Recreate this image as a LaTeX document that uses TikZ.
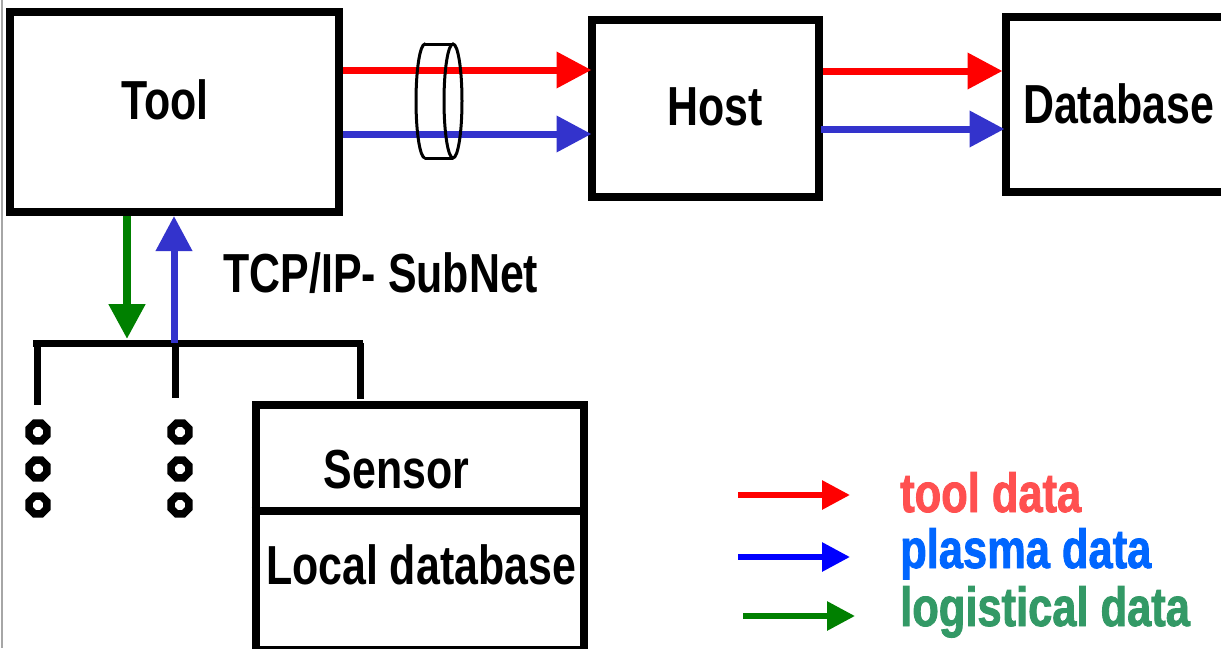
\documentclass[tikz,border=0pt]{standalone}
\usepackage{fontspec}
\setmainfont{Liberation Sans}[FakeStretch=0.78]
\newfontfamily\legfont{Liberation Sans}[FakeStretch=0.79,FakeBold=1.5]
\usetikzlibrary{arrows.meta,shapes.geometric}
\definecolor{rd}{RGB}{255,0,0}
\definecolor{bl}{RGB}{51,51,204}
\definecolor{legblue}{RGB}{0,0,255}
\definecolor{gr}{RGB}{0,128,0}
\definecolor{ltred}{RGB}{255,80,80}
\definecolor{ltblue}{RGB}{0,102,255}
\definecolor{ltgreen}{RGB}{51,153,102}
\tikzset{
  boxnode/.style={draw=black,line width=8pt,inner sep=0pt,rectangle},
  lbltext/.style={inner sep=0pt,anchor=base,font=\bfseries\fontsize{55}{60}\selectfont},
  leg/.style={inner sep=0pt,anchor=base west,font=\legfont\bfseries\fontsize{55}{60}\selectfont},
  flow/.style={line width=7pt,-{Triangle[length=35pt,width=35pt]}},
  legarrow/.style={line width=6pt,-{Triangle[length=28pt,width=28pt]}},
  busline/.style={line width=7pt,black},
  ring/.style={regular polygon,regular polygon sides=8,draw=black,line width=7.5pt,minimum size=19pt,inner sep=0pt},
}
\begin{document}
\begin{tikzpicture}[x=1pt,y=-1pt]
\useasboundingbox (0,0) rectangle (1221,648);
\fill[white] (0,0) rectangle (1221,648);
\draw[gray!70,line width=2pt] (1.5,0) -- (1.5,648);
% boxes
\node[boxnode,minimum width=329pt,minimum height=200pt] (tool) at (174.5,112) {};
\node[boxnode,minimum width=227.5pt,minimum height=176.5pt] (host) at (705.25,108.25) {};
\node[boxnode,minimum width=234.5pt,minimum height=175pt] (db) at (1122.75,104.5) {};
\node[boxnode,minimum width=328.5pt,minimum height=245pt] (sensor) at (419.75,527) {};
\coordinate (divy) at (0,511);
\draw[line width=8pt] (sensor.west |- divy) -- (sensor.east |- divy);
% labels
\node[lbltext] (tooltxt) at (165,119) {Tool};
\node[lbltext] (hosttxt) at (715,125) {Host};
\node[lbltext] (dbtxt) at (1118.5,123) {Database};
\node[lbltext] (tcp) at (381,292) {TCP/IP- SubNet};
\node[lbltext] (sensortxt) at (396.5,488) {Sensor};
\node[lbltext] (localtxt) at (421,584) {Local database};
% top flows
\coordinate (yr1) at (0,70);
\coordinate (yb1) at (0,134);
\coordinate (yr2) at (0,71);
\coordinate (yb2) at (0,129);
\draw[flow,rd] (tool.east |- yr1) -- ([xshift=4pt]host.west |- yr1);
\draw[flow,bl] (tool.east |- yb1) -- ([xshift=4pt]host.west |- yb1);
\draw[flow,rd] (host.east |- yr2) -- ([xshift=1pt]db.west |- yr2);
\draw[flow,bl] ([xshift=-2pt]host.east |- yb2) -- ([xshift=3pt]db.west |- yb2);
% cylinder (fibre bundle)
\begin{scope}
  \clip (400,30) rectangle (425,170);
  \draw[line width=3pt] (425,101) ellipse[x radius=9pt,y radius=57pt];
\end{scope}
\draw[line width=3pt] (425,44) -- (453,44) (425,158) -- (453,158);
\draw[line width=3pt] (453,101) ellipse[x radius=9pt,y radius=57pt];
% bus
\coordinate (busL) at (33,343);
\coordinate (busR) at (363,343);
\coordinate (dropA) at (37,343);
\coordinate (dropB) at (175.5,343);
\coordinate (dropC) at (360,343);
\draw[busline] (busL) -- (busR);
\draw[busline] (dropA) -- ++(0,62);
\draw[busline] (dropB) -- ++(0,55);
\draw[busline] (dropC) -- ++(0,56);
% tool <-> bus arrows
\coordinate (gx) at (127,339);
\coordinate (bx) at (174,343);
\draw[gr,line width=8pt,-{Triangle[length=35pt,width=35pt]}] (tool.south -| gx) -- (gx);
\draw[flow,bl] (bx) -- (tool.south -| bx);
% rings
\foreach \x/\n in {38/a,180/b}{
  \foreach \y/\m in {432/1,469/2,505/3}{
    \node[ring] (r\n\m) at (\x,\y) {};
  }
}
% legend
\coordinate (l1a) at (738,495); \coordinate (l1b) at (850,495);
\coordinate (l2a) at (738,557); \coordinate (l2b) at (850,557);
\coordinate (l3a) at (743,616); \coordinate (l3b) at (855,616);
\draw[legarrow,rd] (l1a) -- (l1b);
\draw[legarrow,legblue] (l2a) -- (l2b);
\draw[legarrow,gr] (l3a) -- (l3b);
\node[leg,text=ltred] (legtool) at (900,512) {tool data};
\node[leg,text=ltblue] (legplasma) at (900,568) {plasma data};
\node[leg,text=ltgreen] (leglog) at (900,626) {logistical data};
\end{tikzpicture}
\end{document}
